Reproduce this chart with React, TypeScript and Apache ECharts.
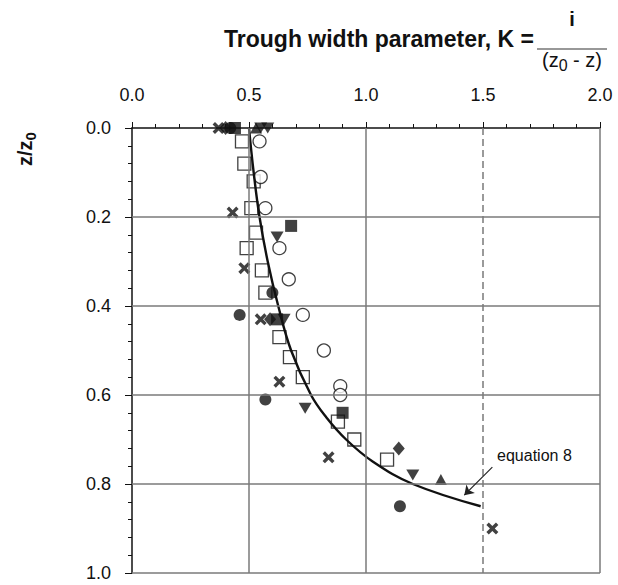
import React, { useEffect, useRef } from "react";
import * as echarts from "echarts";

// Data: [K, z/z0]
const openSquares = [
  [0.47, 0.03], [0.48, 0.08], [0.52, 0.12], [0.51, 0.18], [0.53, 0.235], [0.49, 0.27],
  [0.555, 0.32], [0.57, 0.37], [0.63, 0.47], [0.675, 0.515], [0.73, 0.56], [0.88, 0.66],
  [0.95, 0.70], [1.09, 0.745],
];
const openCircles = [
  [0.545, 0.03], [0.55, 0.11], [0.57, 0.18], [0.63, 0.27], [0.67, 0.34], [0.73, 0.42],
  [0.82, 0.50], [0.89, 0.58], [0.89, 0.60],
];
const filledCircles = [[0.42, 0.0], [0.60, 0.37], [0.46, 0.42], [0.57, 0.61], [1.145, 0.85]];
const crosses = [[0.37, 0.0], [0.43, 0.19], [0.48, 0.315], [0.55, 0.43], [0.63, 0.57], [0.84, 0.74], [1.54, 0.90]];
const filledSquares = [[0.44, 0.0], [0.68, 0.22], [0.62, 0.43], [0.90, 0.64]];
const filledTriDown = [[0.55, 0.0], [0.58, 0.0], [0.62, 0.245], [0.65, 0.43], [0.74, 0.63], [1.20, 0.78]];
const filledTriUp = [[0.53, 0.0], [1.32, 0.79]];
const filledDiamonds = [[0.40, 0.0], [0.59, 0.43], [1.14, 0.72]];
const equation8 = [
  [0.50, 0.0], [0.52, 0.1], [0.545, 0.2], [0.58, 0.3], [0.625, 0.4], [0.68, 0.5],
  [0.765, 0.6], [0.83, 0.65], [0.915, 0.7], [1.03, 0.75], [1.2, 0.8], [1.49, 0.85],
];
const vGridSolid = [0.5, 1.0, 2.0];
const vGridDashed = [1.5];
const hGrid = [0.2, 0.4, 0.6, 0.8, 1.0];
const annotationText = "equation 8";
const annotationAt = [1.56, 0.735];
const arrowFrom = [1.54, 0.762];
const arrowTo = [1.42, 0.825];

const FONT = "'Liberation Sans', Arial, Helvetica, sans-serif";
const CROSS = "path://M0,2L2,0L5,3L8,0L10,2L7,5L10,8L8,10L5,7L2,10L0,8L3,5Z";
const TRI_DOWN = "path://M0,0L10,0L5,9Z";

export default function App() {
  const ref = useRef<HTMLDivElement>(null);
  useEffect(() => {
    const chart = echarts.init(ref.current!, null, { renderer: "svg" });
    const openStyle = { color: "#fff", borderColor: "#111", borderWidth: 1.3 };
    const filled = { color: "#111" };
    const gridLine = { color: "#7a7a7a", width: 1.5, type: "solid" as const };
    chart.setOption({
      animation: false,
      backgroundColor: "#fff",
      grid: { left: 132, top: 128, right: 18, bottom: 12, containLabel: false },
      xAxis: {
        type: "value",
        position: "top",
        min: 0,
        max: 2,
        interval: 0.5,
        axisLine: { show: true, onZero: false, lineStyle: { color: "#111", width: 1.5 } },
        axisTick: { show: true, length: 6, lineStyle: { color: "#111" } },
        minorTick: { show: true, splitNumber: 5, length: 4, lineStyle: { color: "#111" } },
        splitLine: { show: false },
        axisLabel: {
          margin: 24,
          fontFamily: FONT,
          fontSize: 18,
          color: "#111",
          formatter: (v: number) => v.toFixed(1),
        },
      },
      yAxis: {
        type: "value",
        inverse: true,
        min: 0,
        max: 1,
        interval: 0.2,
        axisLine: { show: true, onZero: false, lineStyle: { color: "#111", width: 1.5 } },
        axisTick: { show: true, length: 7, lineStyle: { color: "#111" } },
        minorTick: { show: true, splitNumber: 5, length: 4, lineStyle: { color: "#111" } },
        splitLine: { show: false },
        axisLabel: {
          margin: 21,
          fontFamily: FONT,
          fontSize: 18,
          color: "#111",
          formatter: (v: number) => v.toFixed(1),
        },
      },
      graphic: [
        {
          type: "text",
          left: 224,
          top: 27,
          style: { text: "Trough width parameter, K =", font: `bold 23px ${FONT}`, fill: "#111" },
        },
        {
          type: "text",
          x: 572,
          y: 19,
          style: { text: "i", font: `bold 20px ${FONT}`, fill: "#111", align: "center", verticalAlign: "middle" },
        },
        {
          type: "line",
          shape: { x1: 537, y1: 49, x2: 607, y2: 49 },
          style: { stroke: "#333", lineWidth: 1.2 },
        },
        {
          type: "text",
          x: 572,
          y: 60,
          style: {
            text: "(z{sub|0} - z)",
            font: `20px ${FONT}`,
            fill: "#111",
            align: "center",
            verticalAlign: "middle",
            rich: { sub: { fontSize: 16, fontFamily: FONT, padding: [10, 0, 0, 0] } },
          },
        },
        {
          type: "text",
          x: 25,
          y: 149,
          rotation: Math.PI / 2,
          style: {
            text: "z/z{sub|0}",
            font: `bold 20px ${FONT}`,
            fill: "#111",
            align: "center",
            verticalAlign: "middle",
            rich: { sub: { fontSize: 15, fontWeight: "bold", fontFamily: FONT, padding: [10, 0, 0, 0] } },
          },
        },
      ],
      series: [
        {
          type: "line",
          data: [],
          z: 1,
          silent: true,
          markLine: {
            silent: true,
            symbol: "none",
            label: { show: false },
            data: [
              ...vGridSolid.map((v) => ({ xAxis: v, lineStyle: gridLine })),
              ...vGridDashed.map((v) => ({ xAxis: v, lineStyle: { ...gridLine, type: [7, 4] } })),
              ...hGrid.map((v) => ({ yAxis: v, lineStyle: gridLine })),
            ],
          },
        },
        { type: "scatter", z: 2, data: openSquares, symbol: "rect", symbolSize: 13, itemStyle: openStyle },
        { type: "scatter", z: 2, data: openCircles, symbol: "circle", symbolSize: 13, itemStyle: openStyle },
        { type: "scatter", z: 3, data: filledCircles, symbol: "circle", symbolSize: 12, itemStyle: filled },
        { type: "scatter", z: 3, data: crosses, symbol: CROSS, symbolSize: 12, itemStyle: filled },
        { type: "scatter", z: 3, data: filledSquares, symbol: "rect", symbolSize: 12, itemStyle: filled },
        { type: "scatter", z: 3, data: filledTriDown, symbol: TRI_DOWN, symbolSize: [13, 11], itemStyle: filled },
        { type: "scatter", z: 3, data: filledTriUp, symbol: "triangle", symbolSize: [12, 11], itemStyle: filled },
        { type: "scatter", z: 3, data: filledDiamonds, symbol: "diamond", symbolSize: [12, 14], itemStyle: filled },
        {
          type: "line",
          z: 4,
          data: equation8,
          smooth: 0.4,
          showSymbol: false,
          symbol: "none",
          lineStyle: { color: "#111", width: 2.4 },
          markLine: {
            silent: true,
            symbol: ["none", "arrow"],
            symbolSize: 9,
            label: { show: false },
            lineStyle: { color: "#222", width: 1.2, type: "solid" },
            data: [[{ coord: arrowFrom }, { coord: arrowTo }]],
          },
          markPoint: {
            silent: true,
            symbol: "circle",
            symbolSize: 0,
            data: [{ coord: annotationAt, value: annotationText }],
            label: {
              show: true,
              position: "right",
              distance: 0,
              formatter: annotationText,
              fontFamily: FONT,
              fontSize: 16,
              color: "#111",
            },
          },
        },
      ],
    });
    return () => chart.dispose();
  }, []);
  return <div ref={ref} style={{ position: "fixed", left: 0, top: 0, width: 618, height: 585 }} />;
}
